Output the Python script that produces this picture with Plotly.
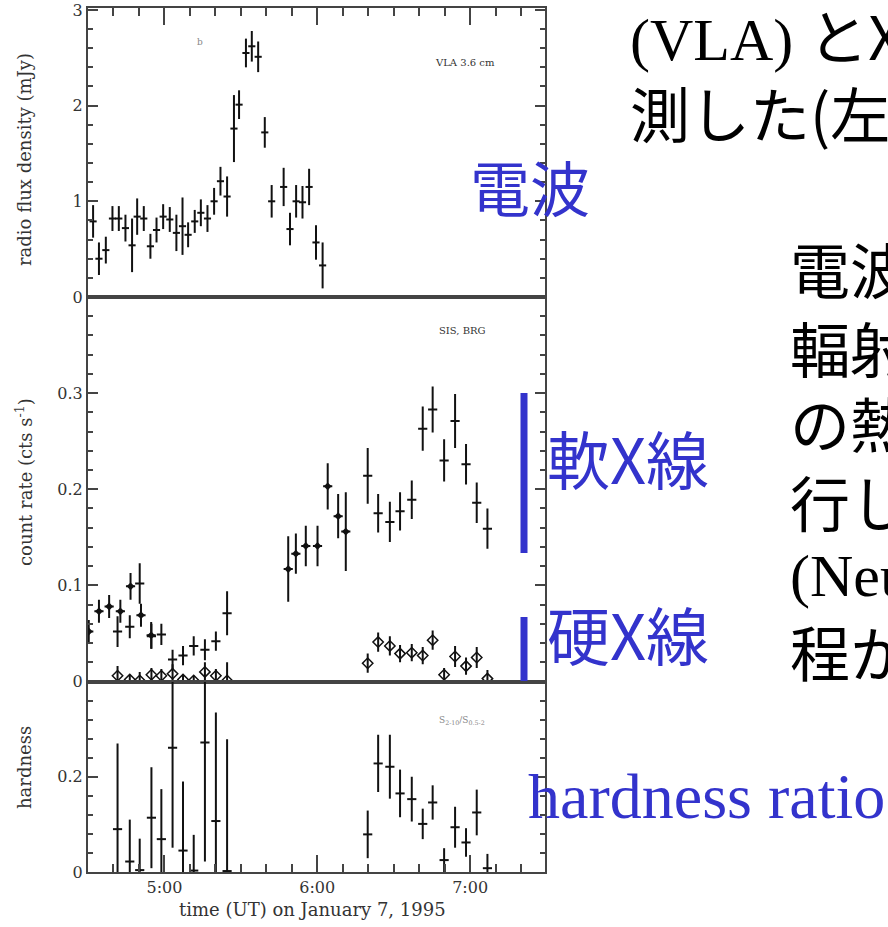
import plotly.graph_objects as go

# ---------------------------------------------------------------
# Data (times in minutes after 04:00 UT, 1995 January 7)
# ---------------------------------------------------------------
radio_time = [32.0, 34.3, 37.0, 39.6, 42.1, 44.7, 47.3, 49.3, 51.9, 54.5, 56.9, 59.5,
              62.1, 64.7, 67.1, 69.3, 71.9, 74.3, 76.9, 79.5, 82.0, 84.6, 87.3, 89.3,
              92.0, 94.3, 96.8, 99.4, 102.1, 106.8, 109.3, 111.7, 114.2, 116.8, 119.5, 122.1]
radio_flux = [0.79, 0.40, 0.49, 0.82, 0.82, 0.72, 0.54, 0.84, 0.82, 0.53, 0.70, 0.84,
              0.81, 0.67, 0.74, 0.65, 0.79, 0.88, 0.82, 1.00, 1.21, 1.05, 1.76, 2.01,
              2.55, 2.62, 2.51, 1.72, 1.00, 1.15, 0.71, 1.00, 0.99, 1.15, 0.57, 0.33]
radio_err = [0.17, 0.17, 0.14, 0.13, 0.13, 0.14, 0.28, 0.19, 0.13, 0.13, 0.13, 0.13,
             0.13, 0.19, 0.30, 0.13, 0.12, 0.14, 0.14, 0.14, 0.15, 0.21, 0.35, 0.15,
             0.15, 0.16, 0.16, 0.16, 0.17, 0.20, 0.17, 0.17, 0.17, 0.19, 0.18, 0.24]

# soft X-ray count rate, first detector (filled diamonds)
sis_time = [30.3, 34.3, 38.3, 42.7, 46.7, 50.8, 54.8,
            108.6, 111.6, 115.5, 120.1, 124.1, 128.2, 131.2]
sis_rate = [0.052, 0.073, 0.078, 0.073, 0.099, 0.069, 0.048,
            0.117, 0.133, 0.141, 0.141, 0.203, 0.172, 0.156]
sis_err = [0.012, 0.012, 0.012, 0.012, 0.014, 0.012, 0.014,
           0.034, 0.021, 0.021, 0.021, 0.024, 0.023, 0.041]

# soft X-ray count rate, second detector (crosses)
gis_time = [41.6, 46.4, 50.3, 54.9, 58.8, 63.2, 67.3, 71.5, 75.9, 80.2, 84.6,
            139.8, 143.9, 148.5, 152.5, 157.1, 161.4, 165.3, 169.8, 174.1, 178.4, 182.6, 186.8]
gis_rate = [0.052, 0.057, 0.102, 0.047, 0.049, 0.023, 0.027, 0.037, 0.033, 0.042, 0.071,
            0.214, 0.175, 0.166, 0.177, 0.189, 0.263, 0.283, 0.230, 0.271, 0.226, 0.186, 0.159]
gis_err = [0.016, 0.012, 0.021, 0.013, 0.011, 0.010, 0.010, 0.010, 0.011, 0.010, 0.023,
           0.029, 0.020, 0.021, 0.020, 0.020, 0.023, 0.024, 0.022, 0.028, 0.021, 0.021, 0.021]

# hard X-ray count rate (open diamonds)
hard_rate = [0.006, 0.002, 0.001, 0.007, 0.006, 0.008, 0.002, 0.001, 0.010, 0.006, 0.001,
             0.019, 0.041, 0.037, 0.029, 0.030, 0.027, 0.043, 0.007, 0.026, 0.016, 0.025, 0.003]
hard_err = [0.010, 0.005, 0.009, 0.007, 0.007, 0.010, 0.005, 0.005, 0.010, 0.007, 0.019,
            0.010, 0.010, 0.010, 0.009, 0.009, 0.009, 0.010, 0.007, 0.011, 0.009, 0.011, 0.009]

# hardness ratio
hardness = [0.090, 0.022, 0.004, 0.114, 0.069, 0.261, 0.045, 0.003, 0.272, 0.107, 0.002,
            0.079, 0.228, 0.221, 0.165, 0.153, 0.101, 0.146, 0.025, 0.094, 0.062, 0.125, 0.008]
hardness_err = [0.180, 0.088, 0.066, 0.106, 0.105, 0.210, 0.145, 0.075, 0.250, 0.228, 0.277,
                0.050, 0.060, 0.067, 0.050, 0.047, 0.032, 0.036, 0.025, 0.043, 0.030, 0.048, 0.030]

time_ticks = [5, 6, 7]
time_labels = ["5:00", "6:00", "7:00"]


def hours(minutes):
    return [4 + m / 60 for m in minutes]


# ---------------------------------------------------------------
# Layout geometry
# ---------------------------------------------------------------
W, H = 888, 927
L, R, T, B = 88, 545, 8, 872          # plotting box
Y_RADIO, Y_HARD = 297, 681.5          # panel boundaries


def px(x):
    return (x - L) / (R - L)


def py(y):
    return (B - y) / (B - T)


INK = "#111111"
AXC = "#444444"
BLUE = "#3333cc"
SERIF = "DejaVu Serif"

ybar = dict(type="data", thickness=2, width=0, color=INK)
xbar = dict(type="constant", thickness=2, width=0, color=INK)

fig = go.Figure()

fig.add_trace(go.Scatter(
    x=hours(radio_time), y=radio_flux, mode="markers",
    marker=dict(size=1, color=INK),
    error_y=dict(ybar, array=radio_err),
    error_x=dict(xbar, value=1.4 / 60),
    xaxis="x", yaxis="y", showlegend=False))

fig.add_trace(go.Scatter(
    x=hours(sis_time), y=sis_rate, mode="markers",
    marker=dict(symbol="diamond", size=6, color=INK),
    error_y=dict(ybar, array=sis_err),
    error_x=dict(xbar, value=1.8 / 60),
    xaxis="x2", yaxis="y2", showlegend=False))

fig.add_trace(go.Scatter(
    x=hours(gis_time), y=gis_rate, mode="markers",
    marker=dict(size=1, color=INK),
    error_y=dict(ybar, array=gis_err),
    error_x=dict(xbar, value=1.8 / 60),
    xaxis="x2", yaxis="y2", showlegend=False))

fig.add_trace(go.Scatter(
    x=hours(gis_time), y=hard_rate, mode="markers",
    marker=dict(symbol="diamond-open", size=8, color=INK, line=dict(width=1.5)),
    error_y=dict(ybar, array=hard_err),
    xaxis="x2", yaxis="y2", showlegend=False))

fig.add_trace(go.Scatter(
    x=hours(gis_time), y=hardness, mode="markers",
    marker=dict(size=1, color=INK),
    error_y=dict(ybar, array=hardness_err),
    error_x=dict(xbar, value=1.8 / 60),
    xaxis="x3", yaxis="y3", showlegend=False))

tickfont = dict(family=SERIF, size=16, color="#333333")
xrange = [4.5, 7.49]
xminor = dict(ticks="inside", ticklen=8, tickwidth=1.5, tickcolor=AXC,
              tick0=4.5, dtick=1 / 6)
common_x = dict(range=xrange, showgrid=False, zeroline=False, showline=True,
                linecolor=AXC, linewidth=2, mirror=True, automargin=False,
                tickvals=time_ticks, ticktext=time_labels)


def yaxis(rng, vals, minor_dtick, domain, anchor):
    return dict(range=rng, domain=domain, anchor=anchor, tickvals=vals,
                ticktext=[("%g" % v) for v in vals], automargin=False,
                ticks="inside", ticklen=10, tickwidth=1.5, tickcolor=AXC,
                mirror="allticks", showline=True, linecolor=AXC, linewidth=2,
                showgrid=False, zeroline=False, tickfont=tickfont,
                minor=dict(ticks="inside", ticklen=5, tickwidth=1.5,
                           tickcolor=AXC, tick0=0, dtick=minor_dtick))


fig.update_layout(
    width=W, height=H,
    margin=dict(l=L, r=W - R, t=T, b=H - B, pad=0),
    paper_bgcolor="white", plot_bgcolor="white",
    xaxis=dict(common_x, anchor="y", side="top", ticks="inside", ticklen=17,
               tickwidth=1.5, tickcolor=AXC, showticklabels=False, minor=xminor),
    xaxis2=dict(common_x, anchor="y2", matches="x", ticks="", showticklabels=False),
    xaxis3=dict(common_x, anchor="y3", matches="x", side="bottom", ticks="inside",
                ticklen=17, tickwidth=1.5, tickcolor=AXC, tickfont=tickfont,
                minor=xminor),
    yaxis=yaxis([0, 3.02], [0, 1, 2, 3], 0.2, [py(Y_RADIO), 1], "x"),
    yaxis2=yaxis([0, 0.4], [0, 0.1, 0.2, 0.3], 0.02, [py(Y_HARD), py(Y_RADIO)], "x2"),
    yaxis3=yaxis([0, 0.4], [0, 0.2], 0.04, [0, py(Y_HARD)], "x3"),
)

ann = []


def text(x, y, s, size, color, family, xanchor="left", angle=0):
    ann.append(dict(x=px(x), y=py(y), xref="paper", yref="paper", text=s,
                    showarrow=False, xanchor=xanchor, yanchor="middle",
                    textangle=angle,
                    font=dict(size=size, color=color, family=family)))


# axis titles
text(24, 160, "radio flux density (mJy)", 18, "#333333", SERIF, "center", -90)
text(24, 482, "count rate (cts s<sup>-1</sup>)", 18, "#333333", SERIF, "center", -90)
text(24, 768, "hardness", 18, "#333333", SERIF, "center", -90)
text(312, 910, "time (UT) on January 7, 1995", 18, "#333333", SERIF, "center")

# panel labels
text(465, 62, "VLA 3.6 cm", 10, "#333333", SERIF, "center")
text(200, 42, "b", 9, "#888888", SERIF, "center")
text(462, 330, "SIS, BRG", 10, "#333333", SERIF, "center")
text(462, 720, "S<sub>2-10</sub>/S<sub>0.5-2</sub>", 9, "#888888", SERIF, "center")

CJK = "Noto Sans CJK JP"
TIMES = "Liberation Serif"

# explanatory text
text(628, 33, "(VLA) <span style='font-family:Noto Sans CJK JP'>とX線</span>", 60, "black", TIMES)
text(628, 112, "測した(左", 60, "black", CJK)
text(788, 267, "電波", 60, "black", CJK)
text(788, 346, "輻射", 60, "black", CJK)
text(788, 421, "の熱", 60, "black", CJK)
text(788, 500, "行し", 60, "black", CJK)
text(788, 576, "(Neu", 60, "black", TIMES)
text(788, 650, "程か", 60, "black", CJK)

# coloured labels
text(468, 185, "電波", 60, BLUE, CJK)
text(545, 456, "軟X線", 63, BLUE, CJK)
text(545, 632, "硬X線", 63, BLUE, CJK)
text(526, 796, "hardness ratio", 64, BLUE, TIMES)

fig.update_layout(annotations=ann)

# bracket bars next to the X-ray labels
for y0, y1 in [(393, 553), (617, 681)]:
    fig.add_shape(type="line", xref="paper", yref="paper",
                  x0=px(524), x1=px(524), y0=py(y0), y1=py(y1),
                  line=dict(color=BLUE, width=7))

fig.write_html("out.html")
